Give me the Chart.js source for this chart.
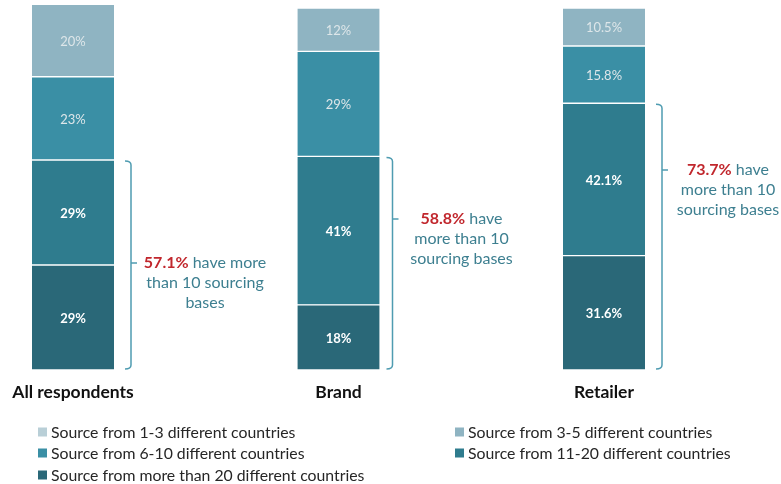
<!DOCTYPE html>
<html>
<head>
<meta charset="utf-8">
<script src="https://cdn.jsdelivr.net/npm/chart.js@4.4.1/dist/chart.umd.min.js"></script>
<style>
  html, body { margin: 0; padding: 0; background: #fff; }
  #wrap { width: 781px; height: 484px; }
</style>
</head>
<body>
<div id="wrap"><canvas id="chart" width="781" height="484"></canvas></div>
<script>
// ---- data ----
const categories = ['All respondents', 'Brand', 'Retailer'];
const seriesLabels = [
    'Source from 1-3 different countries',
    'Source from 3-5 different countries',
    'Source from 6-10 different countries',
    'Source from 11-20 different countries',
    'Source from more than 20 different countries'
];
const from1to3 = [null, null, null];
const from3to5 = [20, 12, 10.5];
const from6to10 = [23, 29, 15.8];
const from11to20 = [29, 41, 42.1];
const over20 = [29, 18, 31.6];
const shareOver10 = ['57.1%', '58.8%', '73.7%'];
const noteLines = [
    ['have more', 'than 10 sourcing', 'bases'],
    ['have', 'more than 10', 'sourcing bases'],
    ['have', 'more than 10', 'sourcing bases']
];

// ---- style ----
const seriesColors = ['#b9cfd7', '#8fb4c2', '#3a8fa5', '#2f7c8e', '#2a6878'];
const BAR_W = 82;
const bracketGap = [17, 13, 17];      // px right of bar edge
const tickAt = [0.51, 0.71, 0.75];    // where the bracket's nose sits (0 = bottom)
const noteOffset = [74, 69, 66];      // text centre, px right of bracket

function makeSet(i, data, strong) {
    return {
        label: seriesLabels[i],
        data: data,
        backgroundColor: seriesColors[i],
        borderColor: '#ffffff',
        borderWidth: { top: 1, bottom: 1, left: 0, right: 0 },
        borderSkipped: false,
        barThickness: BAR_W,
        clip: false,
        strongLabel: strong
    };
}

// stacked bottom -> top
const datasets = [
    makeSet(4, over20, true),
    makeSet(3, from11to20, true),
    makeSet(2, from6to10, false),
    makeSet(1, from3to5, false),
    makeSet(0, from1to3, false)
];

const segmentLabels = {
    id: 'segmentLabels',
    afterDatasetsDraw(chart) {
        const ctx = chart.ctx;
        ctx.save();
        ctx.textAlign = 'center';
        ctx.textBaseline = 'middle';
        chart.data.datasets.forEach((ds, di) => {
            const meta = chart.getDatasetMeta(di);
            meta.data.forEach((bar, i) => {
                const v = ds.data[i];
                if (v == null) return;
                ctx.font = (ds.strongLabel ? 'bold ' : '') + '13px Lato';
                ctx.fillStyle = ds.strongLabel ? '#ffffff' : '#dde6e9';
                ctx.fillText(v + '%', bar.x, (bar.y + bar.base) / 2 + 1);
            });
        });
        ctx.restore();
    }
};

const brackets = {
    id: 'brackets',
    afterDatasetsDraw(chart) {
        const { ctx, scales: { x, y } } = chart;
        ctx.save();
        categories.forEach((c, i) => {
            const top = y.getPixelForValue(over20[i] + from11to20[i]) + 1;
            const bottom = y.getPixelForValue(0) - 1;
            const bx = x.getPixelForValue(i) + BAR_W / 2 + bracketGap[i];
            const ty = Math.round(bottom - (bottom - top) * tickAt[i]);

            ctx.strokeStyle = '#4f9cb1';
            ctx.lineWidth = 1.5;
            ctx.beginPath();
            ctx.moveTo(bx - 6, top);
            ctx.quadraticCurveTo(bx, top, bx, top + 4);
            ctx.lineTo(bx, bottom - 4);
            ctx.quadraticCurveTo(bx, bottom, bx - 6, bottom);
            ctx.moveTo(bx, ty);
            ctx.lineTo(bx + 6, ty);
            ctx.stroke();

            const cx = bx + noteOffset[i];
            ctx.textBaseline = 'middle';
            ctx.textAlign = 'left';
            noteLines[i].forEach((line, k) => {
                const ly = ty + k * 20;
                if (k === 0) {
                    ctx.font = 'bold 16px Lato';
                    const w1 = ctx.measureText(shareOver10[i]).width;
                    ctx.font = '16px Lato';
                    const rest = ' ' + line;
                    const w2 = ctx.measureText(rest).width;
                    const sx = cx - (w1 + w2) / 2;
                    ctx.font = 'bold 16px Lato';
                    ctx.fillStyle = '#c1272d';
                    ctx.fillText(shareOver10[i], sx, ly);
                    ctx.font = '16px Lato';
                    ctx.fillStyle = '#3d7f90';
                    ctx.fillText(rest, sx + w1, ly);
                } else {
                    ctx.font = '16px Lato';
                    ctx.fillStyle = '#3d7f90';
                    const w = ctx.measureText(line).width;
                    ctx.fillText(line, cx - w / 2, ly);
                }
            });
        });
        ctx.restore();
    }
};

const twoColLegend = {
    id: 'twoColLegend',
    afterDraw(chart) {
        const ctx = chart.ctx;
        const colX = [38, 455];
        const rowY = [432, 453, 475];
        ctx.save();
        ctx.font = '15.8px Lato';
        ctx.textBaseline = 'middle';
        ctx.textAlign = 'left';
        seriesLabels.forEach((label, k) => {
            const lx = colX[k % 2];
            const ly = rowY[Math.floor(k / 2)];
            ctx.fillStyle = seriesColors[k];
            ctx.fillRect(lx, ly - 4.5, 9, 9);
            ctx.fillStyle = '#262626';
            ctx.fillText(label, lx + 13, ly + 1);
        });
        ctx.restore();
    }
};

function draw() {
    new Chart(document.getElementById('chart'), {
        type: 'bar',
        data: { labels: categories, datasets: datasets },
        options: {
            responsive: false,
            animation: false,
            devicePixelRatio: 1,
            layout: { padding: { left: 73, right: 177, top: 8, bottom: 69 } },
            plugins: {
                legend: { display: false },
                tooltip: { enabled: false }
            },
            scales: {
                x: {
                    stacked: true,
                    offset: false,
                    grid: { display: false, drawTicks: false },
                    border: { display: false },
                    ticks: {
                        padding: 12,
                        color: '#111111',
                        maxRotation: 0,
                        autoSkip: false,
                        font: { family: 'Lato', size: 17.5, weight: 'bold' }
                    }
                },
                y: {
                    stacked: true,
                    display: false,
                    min: 0,
                    max: 100
                }
            }
        },
        plugins: [segmentLabels, brackets, twoColLegend]
    });
}

Promise.all([
    document.fonts.load('16px Lato'),
    document.fonts.load('bold 16px Lato')
]).then(draw, draw);
</script>
</body>
</html>
